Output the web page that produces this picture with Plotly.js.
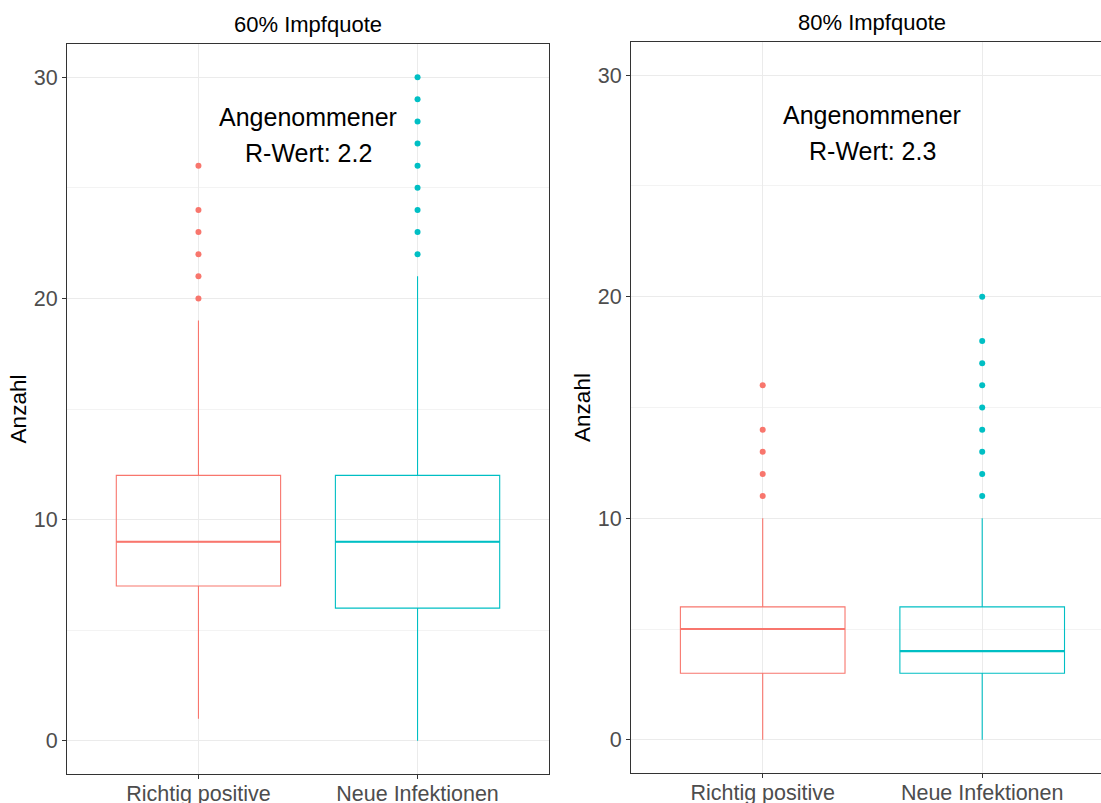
<!DOCTYPE html>
<html>
<head>
<meta charset="utf-8">
<script src="https://cdn.plot.ly/plotly-3.0.1.min.js"></script>
<style>html,body{margin:0;padding:0;background:#fff;}#chart{width:1101px;height:803px;}</style>
</head>
<body>
<div id="chart"></div>
<script>
// ---- data ----
const categories = ['Richtig positive', 'Neue Infektionen'];
const panelTitles = ['60% Impfquote', '80% Impfquote'];
const annoLine1 = ['Angenommener', 'Angenommener'];
const annoLine2 = ['R-Wert: 2.2', 'R-Wert: 2.3'];
const yTitle = 'Anzahl';
const yTicks = [0, 10, 20, 30];
const yMinorTicks = [5, 15, 25];

// 60% panel: [Richtig positive, Neue Infektionen]
const p60_lower  = [1, 0];
const p60_q1     = [7, 6];
const p60_median = [9, 9];
const p60_q3     = [12, 12];
const p60_upper  = [19, 21];
const p60_outRP  = [20, 21, 22, 23, 24, 26];
const p60_outNI  = [22, 23, 24, 25, 26, 27, 28, 29, 30];

// 80% panel
const p80_lower  = [0, 0];
const p80_q1     = [3, 3];
const p80_median = [5, 4];
const p80_q3     = [6, 6];
const p80_upper  = [10, 10];
const p80_outRP  = [11, 12, 13, 14, 16];
const p80_outNI  = [11, 12, 13, 14, 15, 16, 17, 18, 20];

// ---- style ----
const colors = ['#F8766D', '#00BFC4'];
const boxW = 0.75;
const FONT = 'Liberation Sans, Arial, sans-serif';

const panels = [
  {lower: p60_lower, q1: p60_q1, median: p60_median, q3: p60_q3, upper: p60_upper, outs: [p60_outRP, p60_outNI], xa: 'x', ya: 'y'},
  {lower: p80_lower, q1: p80_q1, median: p80_median, q3: p80_q3, upper: p80_upper, outs: [p80_outRP, p80_outNI], xa: 'x2', ya: 'y2'}
];

const traces = [];
panels.forEach(p => {
  categories.forEach((c, i) => {
    const pos = i + 1;
    traces.push({
      type: 'box', xaxis: p.xa, yaxis: p.ya,
      x: [pos], q1: [p.q1[i]], median: [p.median[i]], q3: [p.q3[i]],
      lowerfence: [p.lower[i]], upperfence: [p.upper[i]],
      width: boxW, whiskerwidth: 0, boxpoints: false,
      line: {color: colors[i], width: 1.1},
      fillcolor: 'rgba(255,255,255,0)',
      showlegend: false, hoverinfo: 'skip'
    });
    traces.push({
      type: 'scatter', mode: 'lines', xaxis: p.xa, yaxis: p.ya,
      x: [pos - boxW / 2, pos + boxW / 2], y: [p.median[i], p.median[i]],
      line: {color: colors[i], width: 2.2},
      showlegend: false, hoverinfo: 'skip'
    });
    traces.push({
      type: 'scatter', mode: 'markers', xaxis: p.xa, yaxis: p.ya,
      x: p.outs[i].map(() => pos), y: p.outs[i],
      marker: {color: colors[i], size: 6},
      showlegend: false, hoverinfo: 'skip'
    });
  });
});

function xAxis(domain, range, anchor) {
  return {
    domain: domain, range: range, anchor: anchor,
    tickmode: 'array', tickvals: [1, 2], ticktext: categories,
    showgrid: true, gridcolor: '#EBEBEB', gridwidth: 1.1, zeroline: false,
    showline: true, linecolor: '#333333', linewidth: 1.1, mirror: true,
    ticks: 'outside', ticklen: 4, tickwidth: 1.1, tickcolor: '#333333',
    ticklabelstandoff: -4,
    tickfont: {family: FONT, size: 21.5, color: '#4D4D4D'}, fixedrange: true
  };
}
function yAxis(domain, anchor, mirror) {
  return {
    domain: domain, range: [-1.5, 31.5], anchor: anchor,
    tickmode: 'array', tickvals: yTicks,
    minor: {tickmode: 'array', tickvals: yMinorTicks, showgrid: true, gridcolor: '#EBEBEB', gridwidth: 0.6, ticks: ''},
    showgrid: true, gridcolor: '#EBEBEB', gridwidth: 1.1, zeroline: false,
    showline: true, linecolor: '#333333', linewidth: 1.1, mirror: mirror,
    ticks: 'outside', ticklen: 4, tickwidth: 1.1, tickcolor: '#333333',
    tickfont: {family: FONT, size: 21.5, color: '#4D4D4D'},
    title: {text: yTitle, font: {family: FONT, size: 22.5, color: '#000'}, standoff: 0},
    automargin: false, fixedrange: true
  };
}

const W = 1101, H = 803;
const layout = {
  width: W, height: H,
  margin: {l: 0, r: 0, t: 0, b: 0},
  paper_bgcolor: '#fff', plot_bgcolor: '#fff',
  showlegend: false,
  xaxis: xAxis([67 / W, 549 / W], [0.4, 2.6], 'y'),
  yaxis: yAxis([29 / H, 759 / H], 'x', true),
  xaxis2: xAxis([631 / W, 1], [0.4, 0.4 + 470 / 219.5], 'y2'),
  yaxis2: yAxis([30 / H, 761 / H], 'x2', false),
  annotations: []
};

const titleX = [308 / W, 872 / W];
const titleY = [1 - 24 / H, 1 - 22 / H];
panelTitles.forEach((t, k) => {
  layout.annotations.push({
    text: t, xref: 'paper', yref: 'paper', x: titleX[k], y: titleY[k],
    xanchor: 'center', yanchor: 'middle', showarrow: false,
    font: {family: FONT, size: 22, color: '#000'}
  });
});
['x', 'x2'].forEach((xa, k) => {
  const ya = k === 0 ? 'y' : 'y2';
  layout.annotations.push({
    text: annoLine1[k], xref: xa, yref: ya, x: 1.5, y: 28.2,
    xanchor: 'center', yanchor: 'middle', showarrow: false,
    font: {family: FONT, size: 25, color: '#000'}
  });
  layout.annotations.push({
    text: annoLine2[k], xref: xa, yref: ya, x: 1.5, y: 26.57,
    xanchor: 'center', yanchor: 'middle', showarrow: false,
    font: {family: FONT, size: 25, color: '#000'}
  });
});

Plotly.newPlot('chart', traces, layout, {displayModeBar: false, staticPlot: true});
</script>
</body>
</html>
